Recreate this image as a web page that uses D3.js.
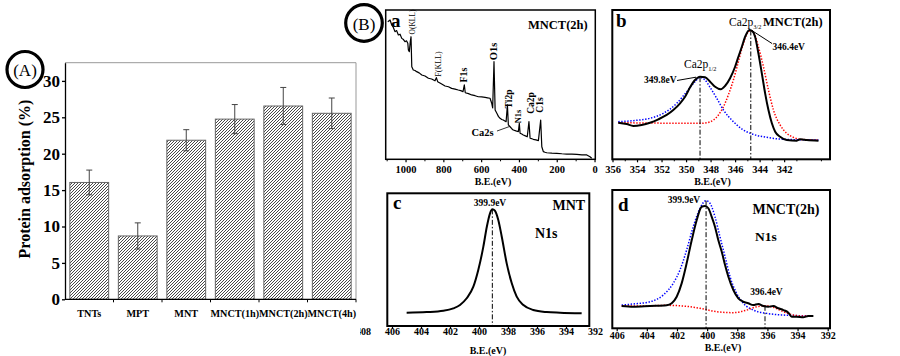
<!DOCTYPE html>
<html>
<head>
<meta charset="utf-8">
<script src="https://cdn.jsdelivr.net/npm/d3@7"></script>
<style>
body { margin: 0; background: #fff; }
text { font-family: "Liberation Serif", "Times New Roman", serif; fill: #000; }
</style>
</head>
<body>
<svg id="fig" width="900" height="356"></svg>
<script>
// ---- panel A: protein adsorption ----
const barCats = ["TNTs", "MPT", "MNT", "MNCT(1h)", "MNCT(2h)", "MNCT(4h)"];
const barVals = [16.05, 8.7, 21.85, 24.75, 26.55, 25.55];
const barErrs = [1.7, 1.8, 1.45, 2.0, 2.55, 2.1];
const barTicks = [0, 5, 10, 15, 20, 25, 30];

// ---- panel a: survey spectrum [B.E., intensity] ----
const survey = [[1094,92.2],[1082,93.3],[1073,90.0],[1065,88.5],[1056,85.5],[1047,86.2],[1038,83.3],[1029,83.8],
  [1020,81.0],[1011,80.2],[1003,78.8],[995,79.4],[988,77.7],[985,73.2],[980,72.1],[975,78.8],[971,82.1],[967,62.0],
  [959,59.8],[950,59.5],[941,58.7],[928,57.9],[914,56.5],[897,55.8],[879,54.3],[862,53.8],[844,52.6],[837,54.7],
  [830,52.0],[811,50.6],[791,49.1],[773,48.6],[756,47.5],[738,47.0],[721,46.4],[708,46.0],[696,45.3],[689,49.8],
  [684,44.6],[667,44.0],[650,43.1],[632,42.6],[615,41.9],[597,41.8],[579,41.5],[566,41.2],[553,40.9],[544,37.5],
  [539,34.4],[532,65.4],[526,33.0],[517,30.8],[508,28.6],[500,27.5],[491,26.7],[483,26.3],[468,25.2],[461,36.4],
  [456,23.0],[447,21.8],[438,20.5],[430,19.6],[416,19.0],[403,18.5],[398,24.1],[394,17.4],[385,16.9],[377,16.3],
  [366,15.7],[356,15.1],[347,25.2],[341,14.1],[332,13.8],[324,13.4],[310,13.0],[297,12.5],[285,26.3],[279,8.4],
  [271,5.1],[262,4.7],[253,4.4],[226,4.1],[200,4.0],[173,3.7],[147,3.5],[120,3.5],[94,3.3],[67,3.0],[41,2.9],
  [24,1.7],[15,0.7]];
const surveyTicks = [1000, 800, 600, 400, 200, 0];
const surveyMinor = [1100, 900, 700, 500, 300, 100];

// ---- panel b: Ca2p ----
const caRaw = [[355.53,24.5],[354.84,23.6],[354.30,22.3],[353.62,23.0],[352.94,24.5],[352.26,26.8],[351.58,29.7],
  [351.04,33.0],[350.49,37.5],[350.08,41.9],[349.67,48.2],[349.27,53.1],[348.86,55.3],[348.45,54.9],[348.04,52.0],
  [347.63,48.6],[347.17,46.9],[346.82,49.1],[346.41,54.3],[346.00,62.0],[345.73,68.7],[345.45,75.4],[345.18,82.1],
  [344.83,86.6],[344.64,86.1],[344.37,82.1],[344.10,71.0],[343.82,57.6],[343.55,44.2],[343.28,33.0],[343.00,24.1],
  [342.73,18.5],[342.33,15.1],[341.78,12.9],[340.96,12.5],[340.69,13.4],[340.15,12.9],[339.20,12.5]];
const caFit32 = [[355.53,24.5],[352.94,24.3],[350.22,24.1],[348.86,24.1],[348.31,24.5],[347.77,26.3],[347.36,29.7],
  [346.95,35.2],[346.55,43.1],[346.14,53.1],[345.73,65.4],[345.32,77.7],[344.91,85.5],[344.72,86.1],[344.45,84.4],
  [344.10,75.4],[343.69,62.0],[343.28,46.4],[342.87,33.0],[342.33,23.0],[341.78,17.4],[341.24,14.7],[340.69,13.4],
  [339.20,12.9]];
const caFit12 = [[355.53,25.2],[354.30,25.9],[352.94,27.5],[351.85,30.8],[350.76,37.5],[349.94,45.3],[349.27,52.0],
  [348.86,54.9],[348.45,53.1],[348.04,48.2],[347.50,40.9],[346.95,33.0],[346.14,25.2],[345.32,19.6],[344.51,16.7],
  [343.41,14.7],[342.06,13.4],[339.20,12.9]];
const caPeaks = [348.86, 344.72];
const caPeakTop = [55.0, 86.3];
const caPeakLabels = ["349.8eV", "346.4eV"];
const caTicks = [356, 354, 352, 350, 348, 346, 344, 342];
const caMinor = [355, 353, 351, 349, 347, 345, 343, 341, 339];

// ---- panel c: N1s of MNT ----
const mntN1s = [[404.99,10.0],[403.61,10.5],[402.46,11.5],[401.77,13.3],[401.31,15.8],[400.85,20.9],[400.39,29.6],
  [400.05,42.2],[399.70,59.8],[399.46,74.8],[399.24,84.9],[399.08,87.9],[398.90,86.9],[398.67,79.9],[398.43,67.3],
  [398.09,47.2],[397.74,32.2],[397.40,22.1],[396.94,15.8],[396.26,12.1],[395.33,10.5],[394.41,10.0],[392.92,9.6]];
const mntPeak = 399.08;
const mntPeakTop = 87.9;
const nTicksC = [408, 406, 404, 402, 400, 398, 396, 394, 392];

// ---- panel d: N1s of MNCT(2h) ----
const n1sRaw = [[405.67,16.1],[404.90,15.6],[403.79,16.1],[402.68,16.6],[402.35,18.1],[402.02,22.8],[401.69,32.5],
  [401.36,47.0],[401.02,63.8],[400.69,78.3],[400.36,87.9],[400.14,88.4],[399.92,86.8],[399.70,80.7],[399.48,73.5],
  [399.26,63.8],[399.03,55.4],[398.81,45.8],[398.59,37.3],[398.26,27.7],[397.93,21.7],[397.60,19.2],[397.27,18.1],
  [396.94,16.8],[396.60,17.6],[396.27,16.1],[395.94,15.6],[395.61,16.1],[395.28,14.5],[394.94,13.2],[394.61,11.3],
  [394.39,8.4],[394.06,8.4],[393.62,8.0],[393.29,8.9],[392.95,8.9]];
const n1sFitMain = [[405.67,16.8],[404.90,17.6],[403.79,19.2],[402.91,24.1],[402.25,32.5],[401.80,42.2],[401.36,56.6],
  [400.92,73.5],[400.47,86.8],[400.07,92.3],[399.81,90.4],[399.48,80.7],[399.15,66.2],[398.81,51.8],[398.48,37.3],
  [398.04,25.3],[397.60,18.1],[396.94,13.2],[396.05,10.8],[394.94,9.6],[392.95,8.9]];
const n1sFitLow = [[405.67,16.1],[404.45,16.1],[402.68,16.6],[401.58,16.1],[400.47,14.5],[399.37,12.0],[398.26,11.3],
  [397.37,13.2],[396.71,15.6],[396.16,16.3],[395.61,15.2],[394.94,12.0],[394.28,9.6],[393.62,8.9],[392.95,8.9]];
const n1sPeaks = [400.07, 396.16];
const n1sPeakTop = [92.3, 16.3];
const nTicksD = [406, 404, 402, 400, 398, 396, 394, 392];

const svg = d3.select('#fig');
const defs = svg.append('defs');

const hatch = defs.append('pattern').attr('id', 'hatch')
    .attr('patternUnits', 'userSpaceOnUse').attr('width', 3).attr('height', 3);
hatch.append('rect').attr('width', 3).attr('height', 3).attr('fill', '#fff');
hatch.append('path').attr('d', 'M-1,1 l2,-2 M0,3 l3,-3 M2,4 l2,-2')
    .attr('stroke', '#333').attr('stroke-width', 0.9);

// ================= panel A =================
const A = {l: 65, r: 356, t: 62.7, b: 299.3};
const xA = d3.scaleBand().domain(barCats).range([A.l, A.r]).paddingInner(0.2).paddingOuter(0.1);
const yA = d3.scaleLinear().domain([0, 32.5]).range([A.b, A.t]);
const gA = svg.append('g');

gA.append('path')
    .attr('d', `M${A.l},${A.t}H${A.r}V${A.b}`)
    .attr('fill', 'none').attr('stroke', '#999').attr('stroke-width', 1);

gA.selectAll('rect.bar')
    .data(barCats)
    .enter()
    .append('rect')
    .attr('class', 'bar')
    .attr('x', d => xA(d))
    .attr('y', (d, i) => yA(barVals[i]))
    .attr('width', xA.bandwidth())
    .attr('height', (d, i) => A.b - yA(barVals[i]))
    .attr('fill', 'url(#hatch)')
    .attr('stroke', '#666').attr('stroke-width', 1);

// error bars
const eb = gA.selectAll('g.err').data(barCats).enter().append('g').attr('class', 'err')
    .attr('stroke', '#444').attr('stroke-width', 1);
eb.append('line')
    .attr('x1', d => xA(d) + xA.bandwidth() / 2).attr('x2', d => xA(d) + xA.bandwidth() / 2)
    .attr('y1', (d, i) => yA(barVals[i] - barErrs[i])).attr('y2', (d, i) => yA(barVals[i] + barErrs[i]));
[1, -1].forEach(s => {
    eb.append('line')
        .attr('x1', d => xA(d) + xA.bandwidth() / 2 - 3).attr('x2', d => xA(d) + xA.bandwidth() / 2 + 3)
        .attr('y1', (d, i) => yA(barVals[i] + s * barErrs[i])).attr('y2', (d, i) => yA(barVals[i] + s * barErrs[i]));
});

gA.append('g')
    .attr('transform', `translate(${A.l},0)`)
    .call(d3.axisLeft(yA).tickValues(barTicks).tickSize(3).tickSizeOuter(0).tickPadding(2))
    .call(g => g.selectAll('text').attr('font-size', 17).attr('font-weight', 'bold'))
    .call(g => g.selectAll('path, line').attr('stroke-width', 1.3));

gA.append('line').attr('x1', A.l).attr('x2', A.r).attr('y1', A.b).attr('y2', A.b)
    .attr('stroke', '#000').attr('stroke-width', 1.3);
gA.selectAll('line.sep')
    .data(d3.range(1, barCats.length + 1))
    .enter()
    .append('line')
    .attr('x1', i => A.l + i * xA.step()).attr('x2', i => A.l + i * xA.step())
    .attr('y1', A.b).attr('y2', A.b + 3)
    .attr('stroke', '#000');

gA.selectAll('text.cat')
    .data(barCats)
    .enter()
    .append('text')
    .attr('x', d => xA(d) + xA.bandwidth() / 2)
    .attr('y', 317)
    .attr('text-anchor', 'middle')
    .attr('font-size', 10.2).attr('font-weight', 'bold')
    .text(d => d);

gA.append('text')
    .attr('transform', 'translate(24,179) rotate(-90)')
    .attr('text-anchor', 'middle').attr('dominant-baseline', 'central')
    .attr('font-size', 16).attr('font-weight', 'bold')
    .text('Protein adsorption (%)');

function circleTag(cx, cy, r, txt) {
    svg.append('circle').attr('cx', cx).attr('cy', cy).attr('r', r)
        .attr('fill', 'none').attr('stroke', '#000').attr('stroke-width', 3.2);
    svg.append('text').attr('x', cx).attr('y', cy + 1)
        .attr('text-anchor', 'middle').attr('dominant-baseline', 'central')
        .attr('font-size', 17).text(txt);
}
circleTag(25, 69.5, 18, '(A)');
circleTag(364, 23, 18.3, '(B)');

// ================= spectrum panels =================
function specPanel(p) {
    const g = svg.append('g');
    if (p.clip) {
        defs.append('clipPath').attr('id', p.clip)
            .append('rect').attr('x', 360).attr('y', 0).attr('width', 540).attr('height', 356);
        g.attr('clip-path', `url(#${p.clip})`);
    }
    const x = d3.scaleLinear().domain(p.dom).range(p.rng);
    const y = d3.scaleLinear().domain([0, 100]).range([p.b, p.t]);

    const ax = g.append('g')
        .attr('transform', `translate(0,${p.b})`)
        .call(d3.axisBottom(x).tickValues(p.ticks).tickSize(3).tickPadding(p.pad).tickFormat(d3.format('d')));
    ax.select('.domain').remove();
    ax.selectAll('.tick').filter(d => x(d) < p.l - 1 || x(d) > p.r + 1).select('line').remove();
    ax.selectAll('text').attr('font-size', p.fs || 10.5).attr('font-weight', 'bold');
    ax.selectAll('line').attr('stroke-width', 1.2);
    if (p.minor) {
        g.append('g')
            .attr('transform', `translate(0,${p.b})`)
            .call(d3.axisBottom(x).tickValues(p.minor).tickSize(2).tickFormat(''))
            .call(a => a.select('.domain').remove())
            .call(a => a.selectAll('.tick').filter(d => x(d) < p.l || x(d) > p.r).remove());
    }

    g.append('rect')
        .attr('x', p.l).attr('y', p.t).attr('width', p.r - p.l).attr('height', p.b - p.t)
        .attr('fill', 'none').attr('stroke', '#000').attr('stroke-width', p.sw);

    g.append('text').attr('x', p.lab[0]).attr('y', p.lab[1])
        .attr('text-anchor', 'middle').attr('font-size', 10).attr('font-weight', 'bold')
        .text('B.E.(eV)');
    return {g, x, y};
}

function curve(P, data, color, width, dotted, smooth) {
    const line = d3.line().x(d => P.x(d[0])).y(d => P.y(d[1]))
        .curve(smooth ? d3.curveMonotoneX : d3.curveLinear);
    const path = P.g.append('path').datum(data).attr('d', line)
        .attr('fill', 'none').attr('stroke', color).attr('stroke-width', width)
        .attr('stroke-linejoin', 'round');
    if (dotted) path.attr('stroke-dasharray', '1.4,1.6');
}

function dashDot(P, be, top) {
    P.g.append('line')
        .attr('x1', P.x(be)).attr('x2', P.x(be))
        .attr('y1', P.y(top)).attr('y2', P.y(0))
        .attr('stroke', '#000').attr('stroke-width', 1)
        .attr('stroke-dasharray', '5,2,1.5,2');
}

function label(g, x, y, txt, size, bold, anchor) {
    return g.append('text').attr('x', x).attr('y', y)
        .attr('text-anchor', anchor || 'start')
        .attr('font-size', size).attr('font-weight', bold ? 'bold' : 'normal')
        .text(txt);
}

function vlabel(g, x, y, txt, size, bold) {
    g.append('text')
        .attr('transform', `translate(${x},${y}) rotate(-90)`)
        .attr('text-anchor', 'middle').attr('dominant-baseline', 'central')
        .attr('font-size', size).attr('font-weight', bold ? 'bold' : 'normal')
        .text(txt);
}

function subLabel(g, x, y, main, sub, size) {
    const t = g.append('text').attr('x', x).attr('y', y).attr('font-size', size);
    t.append('tspan').text(main);
    t.append('tspan').attr('font-size', size * 0.55).attr('dy', 2.5).text(sub);
}

// ---- a ----
const Pa = specPanel({l: 385.7, r: 595.3, t: 10, b: 159.3, dom: [1105, -4], rng: [385.7, 595.3],
    ticks: surveyTicks, minor: surveyMinor, pad: 3, sw: 1.5, lab: [493, 184.5]});
curve(Pa, survey, '#000', 1.2, false, false);
label(Pa.g, 391, 27, 'a', 19, true);
label(Pa.g, 528, 29, 'MNCT(2h)', 12.5, true);
vlabel(Pa.g, 412, 22, 'O(KLL)', 7.5, false);
vlabel(Pa.g, 438.5, 64, 'F(KLL)', 8, false);
vlabel(Pa.g, 463, 75, 'F1s', 10, true);
vlabel(Pa.g, 493.3, 51.5, 'O1s', 10.5, true);
vlabel(Pa.g, 509, 99, 'Ti2p', 9.5, true);
vlabel(Pa.g, 518, 116.5, 'N1s', 8.5, true);
vlabel(Pa.g, 530.8, 103, 'Ca2p', 9.5, true);
vlabel(Pa.g, 540, 105, 'C1s', 9.5, true);
label(Pa.g, 471.5, 135.5, 'Ca2s', 10.5, true);
Pa.g.append('line').attr('x1', 497).attr('y1', 131).attr('x2', Pa.x(449)).attr('y2', Pa.y(22))
    .attr('stroke', '#000').attr('stroke-width', 0.8);

// ---- b ----
const Pb = specPanel({l: 612.3, r: 830, t: 10, b: 159.3, dom: [356, 338.3], rng: [612.5, 829.5],
    ticks: caTicks, minor: caMinor, pad: 3, sw: 2, lab: [712.5, 184.5]});
curve(Pb, caFit32, 'red', 1.5, true, true);
curve(Pb, caFit12, 'blue', 1.5, true, true);
curve(Pb, caRaw, '#000', 2, false, true);
caPeaks.forEach((be, i) => dashDot(Pb, be, caPeakTop[i]));
label(Pb.g, 616, 27, 'b', 19, true);
subLabel(Pb.g, 729, 26, 'Ca2p', '3/2', 11.5);
label(Pb.g, 763, 26, 'MNCT(2h)', 12.5, true);
subLabel(Pb.g, 684, 68, 'Ca2p', '1/2', 11.5);
label(Pb.g, 676.5, 83, caPeakLabels[0], 9.5, true, 'end');
label(Pb.g, 772.5, 50, caPeakLabels[1], 9.5, true);
Pb.g.append('line').attr('x1', 677).attr('y1', 80.5).attr('x2', Pb.x(caPeaks[0]) - 4).attr('y2', Pb.y(caPeakTop[0]))
    .attr('stroke', '#000').attr('stroke-width', 1);
Pb.g.append('line').attr('x1', 772).attr('y1', 43.5).attr('x2', Pb.x(caPeaks[1]) + 1).attr('y2', Pb.y(caPeakTop[1]))
    .attr('stroke', '#000').attr('stroke-width', 1);

// ---- c ----
const Pc = specPanel({l: 387.3, r: 589.3, t: 193.3, b: 326, dom: [408, 392], rng: [363, 595],
    ticks: nTicksC, pad: -1.5, sw: 2, fs: 10, lab: [488, 353.5], clip: 'clipC'});
curve(Pc, mntN1s, '#000', 2, false, true);
dashDot(Pc, mntPeak, mntPeakTop);
label(Pc.g, 393, 209, 'c', 19, true);
label(Pc.g, 490, 206, '399.9eV', 9.5, true, 'middle');
label(Pc.g, 552.5, 209.5, 'MNT', 14, true);
label(Pc.g, 535, 238, 'N1s', 14, true);

// ---- d ----
const Pd = specPanel({l: 612.3, r: 830, t: 190, b: 328.3, dom: [406, 392], rng: [616.7, 827.7],
    ticks: nTicksD, pad: 0.5, sw: 2, fs: 10, lab: [723, 350.5]});
curve(Pd, n1sFitMain, 'blue', 1.5, true, true);
curve(Pd, n1sFitLow, 'red', 1.5, true, true);
curve(Pd, n1sRaw, '#000', 2, false, true);
n1sPeaks.forEach((be, i) => dashDot(Pd, be, n1sPeakTop[i]));
label(Pd.g, 618, 211, 'd', 19, true);
label(Pd.g, 684, 203, '399.9eV', 9.5, true, 'middle');
label(Pd.g, 752.5, 214, 'MNCT(2h)', 14, true);
label(Pd.g, 755, 241, 'N1s', 13.5, true);
label(Pd.g, 766.5, 295, '396.4eV', 9.5, true, 'middle');
</script>
</body>
</html>
